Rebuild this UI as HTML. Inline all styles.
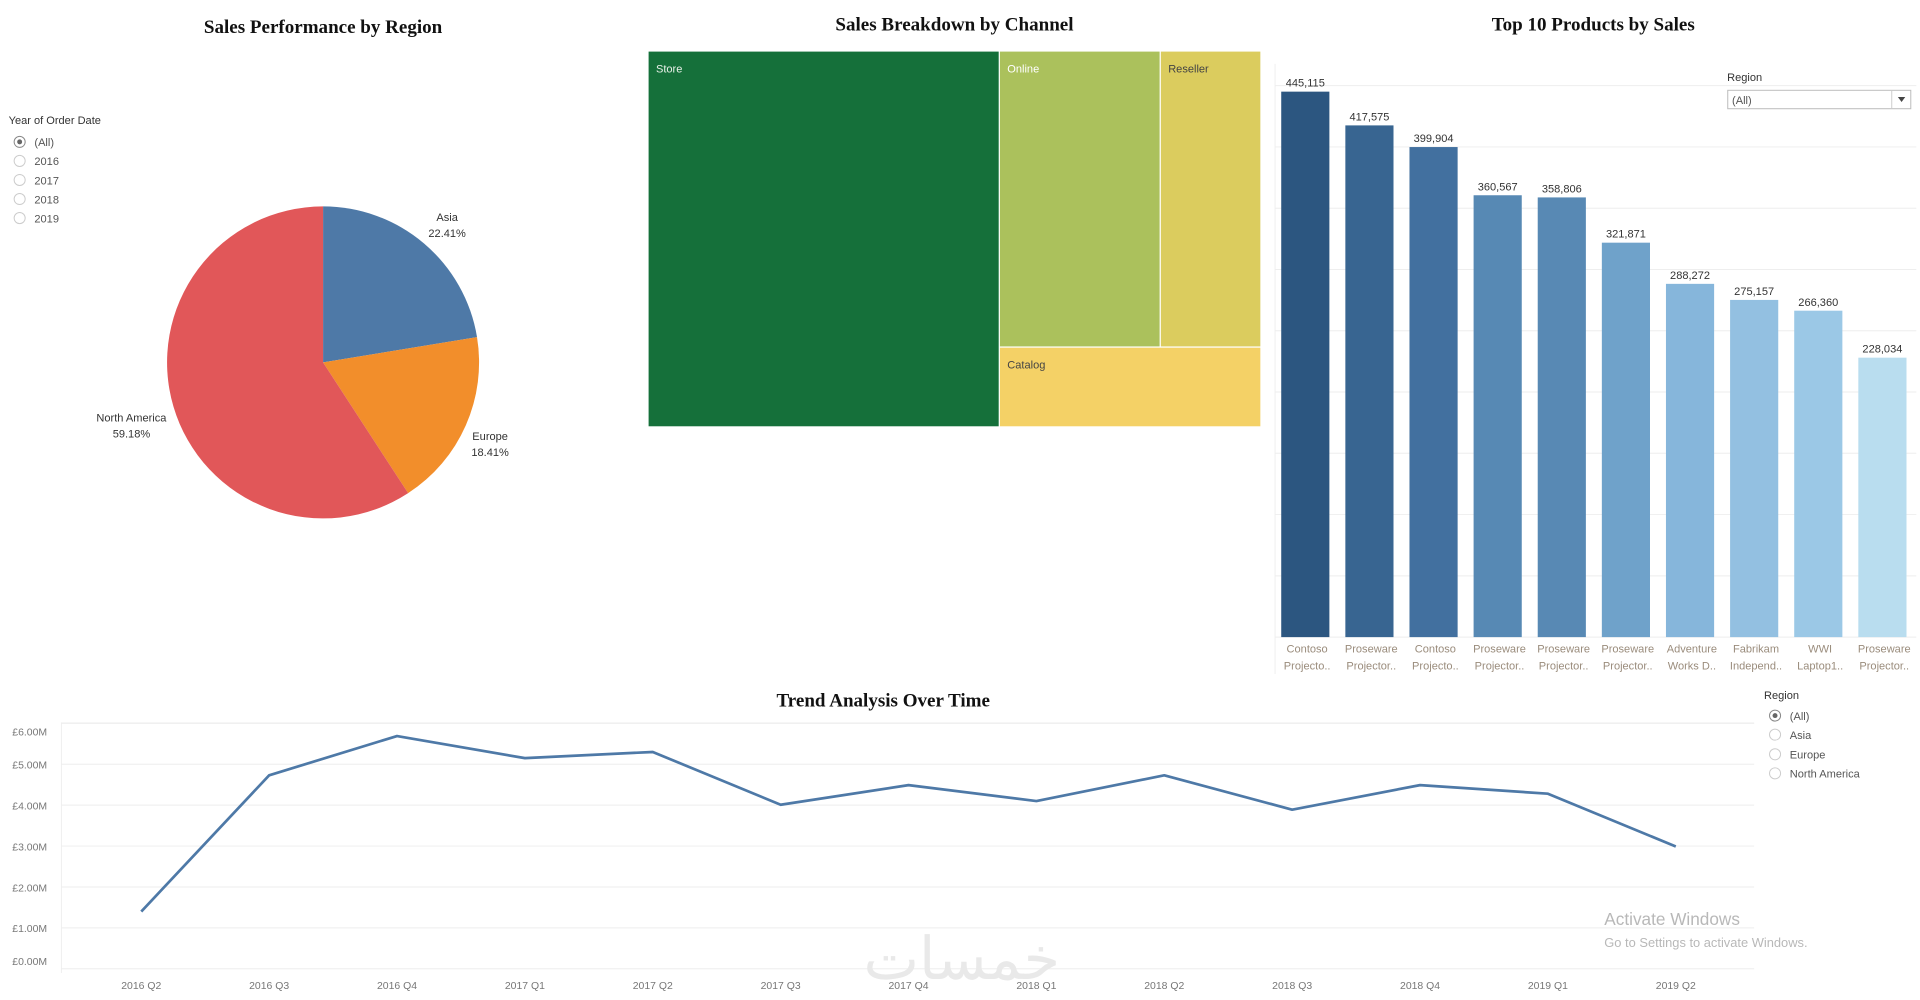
<!DOCTYPE html>
<html><head><meta charset="utf-8">
<style>
html,body{margin:0;padding:0;background:#fff;width:1920px;height:1000px;overflow:hidden}
svg{display:block}
text{font-family:"Liberation Sans","Noto Sans CJK SC",sans-serif}
.t{font-family:"Liberation Serif",serif;font-weight:bold;font-size:15.5px;fill:#111}
</style></head>
<body>
<svg id="root" width="1920" height="1000" viewBox="0 0 1563 814" preserveAspectRatio="none" xmlns="http://www.w3.org/2000/svg">
  <text class="t" x="263" y="27" text-anchor="middle">Sales Performance by Region</text>
  <g font-size="9" fill="#555">
    <text x="7" y="101" fill="#333">Year of Order Date</text>
    <g><circle cx="16" cy="115.5" r="4.5" fill="#fff" stroke="#888" stroke-width="0.8"/><circle cx="16" cy="115.5" r="2" fill="#666"/><text x="28" y="119">(All)</text></g>
    <g><circle cx="16" cy="131" r="4.5" fill="#fff" stroke="#ccc" stroke-width="0.8"/><text x="28" y="134.5">2016</text></g>
    <g><circle cx="16" cy="146.5" r="4.5" fill="#fff" stroke="#ccc" stroke-width="0.8"/><text x="28" y="150">2017</text></g>
    <g><circle cx="16" cy="162" r="4.5" fill="#fff" stroke="#ccc" stroke-width="0.8"/><text x="28" y="165.5">2018</text></g>
    <g><circle cx="16" cy="177.5" r="4.5" fill="#fff" stroke="#ccc" stroke-width="0.8"/><text x="28" y="181">2019</text></g>
  </g>
  <g id="pie"></g>

  <text class="t" x="777" y="25" text-anchor="middle">Sales Breakdown by Channel</text>
  <g font-size="9">
    <g><rect x="528" y="42" width="285" height="305" fill="#15703a"/><text x="534" y="59" fill="#e8f0e8">Store</text></g>
    <g><rect x="814" y="42" width="130" height="240" fill="#abc15c"/><text x="820" y="59" fill="#fff">Online</text></g>
    <g><rect x="945" y="42" width="81" height="240" fill="#dbcc5e"/><text x="951" y="59" fill="#444">Reseller</text></g>
    <g><rect x="814" y="283" width="212" height="64" fill="#f4d166"/><text x="820" y="300" fill="#444">Catalog</text></g>
  </g>

  <text class="t" x="1297" y="25" text-anchor="middle">Top 10 Products by Sales</text>
  <g id="bars"></g>
  <g>
    <text x="1406" y="66" font-size="9" fill="#333">Region</text>
    <g>
      <rect x="1406.5" y="73.5" width="149" height="15" fill="#fff" stroke="#bbb" stroke-width="0.8"/>
      <line x1="1540" y1="74" x2="1540" y2="88" stroke="#ccc" stroke-width="0.8"/>
      <polygon points="1545,79 1551,79 1548,83" fill="#444"/>
      <text x="1410" y="84.5" font-size="9" fill="#555">(All)</text>
    </g>
  </g>

  <text class="t" x="719" y="575" text-anchor="middle">Trend Analysis Over Time</text>
  <g id="trend"></g>
  <g font-size="9" fill="#555">
    <text x="1436" y="569" fill="#333">Region</text>
    <g><circle cx="1445" cy="582.5" r="4.5" fill="#fff" stroke="#888" stroke-width="0.8"/><circle cx="1445" cy="582.5" r="2" fill="#666"/><text x="1457" y="586">(All)</text></g>
    <g><circle cx="1445" cy="598" r="4.5" fill="#fff" stroke="#ccc" stroke-width="0.8"/><text x="1457" y="601.5">Asia</text></g>
    <g><circle cx="1445" cy="614" r="4.5" fill="#fff" stroke="#ccc" stroke-width="0.8"/><text x="1457" y="617.5">Europe</text></g>
    <g><circle cx="1445" cy="629.5" r="4.5" fill="#fff" stroke="#ccc" stroke-width="0.8"/><text x="1457" y="633">North America</text></g>
  </g>
  <text x="1306" y="753" font-size="14" fill="#b8b8b8">Activate Windows</text>
  <text x="1306" y="771" font-size="10.5" fill="#b8b8b8">Go to Settings to activate Windows.</text>
  <text x="783" y="797" font-size="48" fill="#e9e9e9" text-anchor="middle" font-family="'DejaVu Sans',sans-serif">خمسات</text>
</svg>
<script>
const NS='http://www.w3.org/2000/svg';
function mk(tag,attrs,parent){const e=document.createElementNS(NS,tag);for(const k in attrs)e.setAttribute(k,attrs[k]);parent.appendChild(e);return e;}

const pieRegions=['Asia','Europe','North America'];
const pieShares=[22.41,18.41,59.18];
const pieColors=['#4e79a7','#f28e2b','#e15759'];
const pieLabelPos=[[364,177],[399,355],[107,340]];
(function(){
  const g=document.getElementById('pie');const cx=263,cy=295,r=127;
  const total=pieShares.reduce((a,b)=>a+b,0);let a0=0;
  pieShares.forEach((v,i)=>{
    const a1=a0+v/total*2*Math.PI;
    const x0=cx+r*Math.sin(a0),y0=cy-r*Math.cos(a0),x1=cx+r*Math.sin(a1),y1=cy-r*Math.cos(a1);
    const p=mk('path',{d:`M${cx},${cy}L${x0},${y0}A${r},${r} 0 ${a1-a0>Math.PI?1:0} 1 ${x1},${y1}Z`,fill:pieColors[i]},g);
    
    
    const t=mk('text',{x:pieLabelPos[i][0],y:pieLabelPos[i][1]+3,'font-size':9,fill:'#333','text-anchor':'middle'},g);
    
    
    mk('tspan',{x:pieLabelPos[i][0]},t).textContent=pieRegions[i];
    mk('tspan',{x:pieLabelPos[i][0],dy:13},t).textContent=v.toFixed(2)+'%';
    a0=a1;
  });
})();

const barLine1=['Contoso','Proseware','Contoso','Proseware','Proseware','Proseware','Adventure','Fabrikam','WWI','Proseware'];
const barLine2=['Projecto..','Projector..','Projecto..','Projector..','Projector..','Projector..','Works D..','Independ..','Laptop1..','Projector..'];
const barValues=[445115,417575,399904,360567,358806,321871,288272,275157,266360,228034];
const barColors=['#2c5680','#386591','#42709f','#5789b4','#5889b4','#6fa2ca','#86b6db','#93c0e1','#9bc8e6','#b9ddef'];
const barTicks=[0,50000,100000,150000,200000,250000,300000,350000,400000,450000];
(function(){
  const g=document.getElementById('bars');
  const x0=1038,x1=1560,base=518.6,pxPer=444/445115;
  const yS=v=>base-v*pxPer;const slot=(x1-x0)/barValues.length;
  barTicks.forEach(t=>{const l=mk('line',{x1:x0,x2:x1,y1:yS(t),y2:yS(t),stroke:'#eee','stroke-width':0.8},g);
    
    });
  mk('line',{x1:x0,x2:x0,y1:52,y2:base+30,stroke:'#eee','stroke-width':0.8},g);
  barValues.forEach((v,i)=>{
    const bx=x0+i*slot+5;
    const r=mk('rect',{x:bx,y:yS(v),width:slot-13,height:base-yS(v),fill:barColors[i]},g);
    
    
    const cxm=bx+(slot-13)/2;
    const t=mk('text',{x:cxm,y:yS(v)-4,'font-size':9,fill:'#333','text-anchor':'middle'},g);
    
    
    t.textContent=v.toLocaleString('en-US');
    const c=mk('text',{x:x0+i*slot+slot/2,y:531,'font-size':9,fill:'#9a8c7c','text-anchor':'middle'},g);
    
    
    mk('tspan',{x:x0+i*slot+slot/2},c).textContent=barLine1[i];
    mk('tspan',{x:x0+i*slot+slot/2,dy:14},c).textContent=barLine2[i];
  });
})();

const quarters=['2016 Q2','2016 Q3','2016 Q4','2017 Q1','2017 Q2','2017 Q3','2017 Q4','2018 Q1','2018 Q2','2018 Q3','2018 Q4','2019 Q1','2019 Q2'];
const salesM=[1.40,4.73,5.69,5.15,5.30,4.01,4.49,4.10,4.73,3.89,4.49,4.28,2.99];
const yTicks=[0,1,2,3,4,5,6];
const yTickLabels=['£0.00M','£1.00M','£2.00M','£3.00M','£4.00M','£5.00M','£6.00M'];
(function(){
  const g=document.getElementById('trend');
  const left=50,right=1428,zero=788.6,perM=33.3,xFirst=115,step=104.1;
  const yS=v=>zero-v*perM;const xS=i=>xFirst+i*step;
  mk('line',{x1:left,x2:right,y1:588.5,y2:588.5,stroke:'#eee','stroke-width':0.8},g);
  yTicks.forEach((t,i)=>{
    const l=mk('line',{x1:left,x2:right,y1:yS(t),y2:yS(t),stroke:'#eee','stroke-width':0.8},g);
    
    
    let ly=yS(t)+3.5; if(t===6) ly=yS(t)+10; if(t===0) ly=yS(t)-3;
    const tx=mk('text',{x:10,y:ly,'font-size':8.5,fill:'#777'},g);
    
    
    tx.textContent=yTickLabels[i];
  });
  mk('line',{x1:left,x2:left,y1:588,y2:792,stroke:'#eee','stroke-width':0.8},g);
  quarters.forEach((q,i)=>{
    const tx=mk('text',{x:xS(i),y:805,'font-size':8.5,fill:'#777','text-anchor':'middle'},g);
    
    
    tx.textContent=q;
  });
  const p=mk('polyline',{points:salesM.map((v,i)=>xS(i)+','+yS(v)).join(' '),fill:'none',stroke:'#4e79a7','stroke-width':2.2,'stroke-linejoin':'round'},g);
  
  
})();
</script>
</body></html>
